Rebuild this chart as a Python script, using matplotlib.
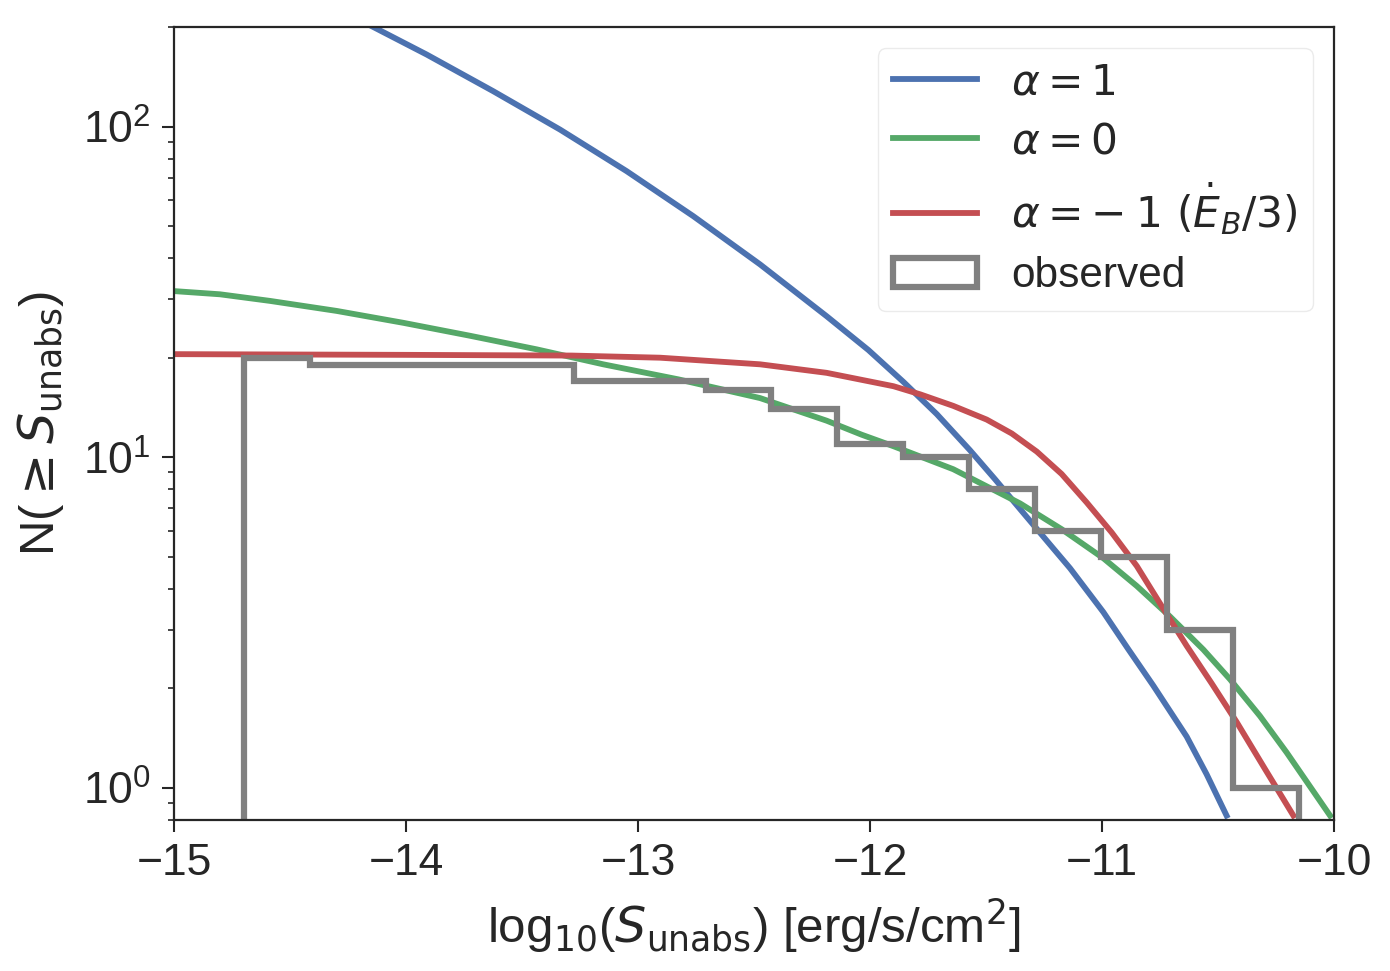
import numpy as np
import matplotlib
matplotlib.use("Agg")
import matplotlib.pyplot as plt

# ---- data ----
bin_edges = [-14.70, -14.416, -14.131, -13.847, -13.563, -13.278, -12.994,
             -12.709, -12.425, -12.141, -11.856, -11.572, -11.288, -11.003,
             -10.719, -10.434, -10.15]
obs_counts = [20, 19, 19, 19, 19, 17, 17, 16, 14, 11, 10, 8, 6, 5, 3, 1]

blue_x = [-14.2, -14.141, -13.911, -13.624, -13.336, -13.049, -12.762, -12.474,
          -12.187, -12.007, -11.856, -11.712, -11.569, -11.461, -11.353,
          -11.21, -11.138, -10.994, -10.887, -10.779, -10.635, -10.549, -10.463]
blue_y = [210, 200, 165.1, 127.9, 97.9, 73.3, 53.6, 38.3, 26.7, 21.1, 16.9,
          13.5, 10.5, 8.58, 6.97, 5.30, 4.62, 3.40, 2.63, 2.04, 1.43, 1.10, 0.825]

green_x = [-15.0, -14.802, -14.586, -14.299, -14.012, -13.724, -13.437, -13.150,
           -12.826, -12.474, -12.187, -12.036, -11.899, -11.641, -11.353,
           -11.174, -10.994, -10.850, -10.707, -10.563, -10.448, -10.319,
           -10.204, -10.017]
green_y = [31.8, 31.1, 29.7, 27.7, 25.5, 23.3, 21.2, 19.1, 17.2, 15.1, 12.9,
           11.7, 10.8, 9.20, 7.25, 6.06, 4.95, 4.08, 3.30, 2.62, 2.13, 1.65,
           1.28, 0.825]

red_x = [-15.0, -14.0, -13.285, -12.905, -12.474, -12.187, -11.899, -11.784,
         -11.641, -11.497, -11.389, -11.281, -11.174, -11.066, -10.958,
         -10.850, -10.743, -10.635, -10.527, -10.419, -10.297, -10.175]
red_y = [20.5, 20.4, 20.3, 20.0, 19.1, 18.0, 16.4, 15.5, 14.3, 13.0, 11.8,
         10.4, 8.9, 7.30, 5.92, 4.69, 3.55, 2.69, 2.07, 1.58, 1.14, 0.825]

labels = [r"$\alpha = 1$", r"$\alpha = 0$", r"$\alpha = -\:1\ (\dot{E}_B/3)$", "observed"]
colors = ["#4C72B0", "#55A868", "#C44E52", "gray"]

# ---- style ----
plt.rcParams["font.family"] = ["Liberation Sans", "DejaVu Sans"]
plt.rcParams["mathtext.fontset"] = "dejavusans"
text_color = "#262626"
plt.rcParams["text.color"] = text_color
plt.rcParams["axes.labelcolor"] = text_color
plt.rcParams["xtick.color"] = text_color
plt.rcParams["ytick.color"] = text_color

tick_fs = 32
label_fs = 35.5
legend_fs = 30.5

fig = plt.figure(figsize=(13.9, 9.71), dpi=100)
ax = fig.add_axes([0.1252, 0.1555, 0.8345, 0.8167])

ax.plot(blue_x, blue_y, color=colors[0], lw=4.2, label=labels[0])
ax.plot(green_x, green_y, color=colors[1], lw=4.2, label=labels[1])
ax.plot(red_x, red_y, color=colors[2], lw=4.2, label=labels[2])
ax.hist(bin_edges[:-1], bins=bin_edges, weights=obs_counts, histtype="step",
        color=colors[3], lw=4.5, label=labels[3], log=True)

ax.set_yscale("log")
ax.set_xlim(-15, -10)
ax.set_ylim(0.8, 200)
ax.set_xticks([-15, -14, -13, -12, -11, -10])

for s in ax.spines.values():
    s.set_linewidth(1.6)
    s.set_color(text_color)

ax.tick_params(axis="both", which="major", labelsize=tick_fs, length=8.5, width=1.5,
               direction="out", pad=8)
ax.tick_params(axis="y", which="minor", length=4.5, width=1.2, direction="out")
ax.tick_params(axis="x", which="minor", bottom=False)

ax.set_xlabel(r"log$_{10}$($S_{\rm unabs}$) [erg/s/cm$^2$]", fontsize=label_fs, labelpad=9)
ax.set_ylabel(r"N($\geq S_{\rm unabs}$)", fontsize=label_fs, labelpad=12)

leg = ax.legend(loc="upper right", fontsize=legend_fs, frameon=True, fancybox=True,
                borderpad=0.35, labelspacing=0.45, handlelength=2.0)
leg.get_frame().set_edgecolor("#e6e6e6")
leg.get_frame().set_linewidth(1.0)

fig.savefig("out.png", dpi=100)
